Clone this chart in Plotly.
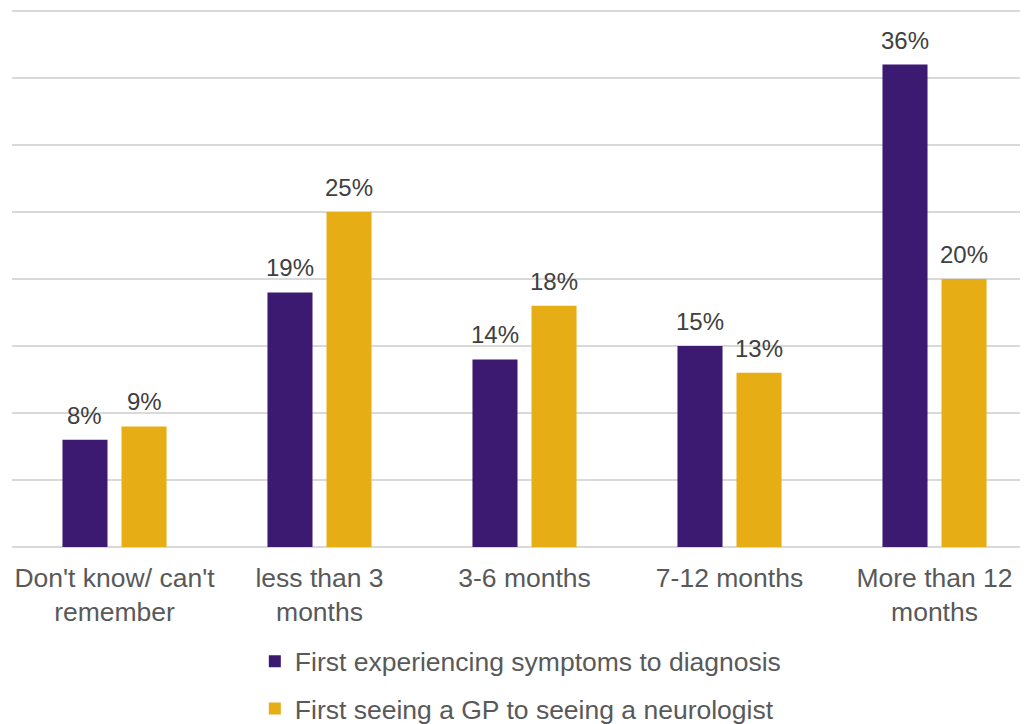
import plotly.graph_objects as go

categories = ["Don't know/ can't<br>remember", "less than 3<br>months", "3-6 months", "7-12 months", "More than 12<br>months"]
series_names = ["First experiencing symptoms to diagnosis", "First seeing a GP to seeing a neurologist"]
symptoms_to_diagnosis = [8, 19, 14, 15, 36]
gp_to_neurologist = [9, 25, 18, 13, 20]
colors = ["#3C1A71", "#E6AD14"]

FONT = "Liberation Sans, Arial, sans-serif"
BARGAP = 0.424
series = [symptoms_to_diagnosis, gp_to_neurologist]
slot = (1 - BARGAP) / len(series)

fig = go.Figure()
annotations = []
xs = list(range(len(categories)))
for i, (name, vals) in enumerate(zip(series_names, series)):
    fig.add_trace(go.Bar(
        x=xs, y=vals, name=name,
        marker=dict(color=colors[i], line=dict(width=0)),
        legendgroup=f"g{i}", hoverinfo="y",
    ))
    off = (i - (len(series) - 1) / 2) * slot
    for x, v in zip(xs, vals):
        annotations.append(dict(
            x=x + off, y=v, xref="x", yref="y", text=f"{v}%", showarrow=False,
            yanchor="bottom", yshift=9,
            font=dict(family=FONT, size=24, color="#404040"),
        ))

fig.update_layout(
    width=1020, height=716,
    margin=dict(l=4, r=0, t=0, b=177, autoexpand=False),
    paper_bgcolor="white", plot_bgcolor="white",
    barmode="group", bargap=BARGAP, bargroupgap=0.237,
    font=dict(family=FONT, size=26.5, color="#595959"),
    annotations=annotations,
    xaxis=dict(
        tickmode="array", tickvals=xs, ticktext=categories,
        range=[-0.5, 4.456], showgrid=False, zeroline=False, showline=False,
        ticks="", tickfont=dict(family=FONT, size=26.5, color="#595959"),
        automargin=False, ticklabelstandoff=12,
    ),
    yaxis=dict(
        range=[0, 40.224], tickmode="array", tickvals=[0, 5, 10, 15, 20, 25, 30, 35, 40],
        showgrid=True, gridcolor="#D9D9D9", gridwidth=1.5,
        showticklabels=False, zeroline=True, zerolinecolor="#D9D9D9", zerolinewidth=1.5,
        showline=False, automargin=False,
    ),
    legend=dict(
        orientation="v", x=0.239, xanchor="left", y=-0.344, yanchor="bottom",
        font=dict(family=FONT, size=26.5, color="#595959"), tracegroupgap=10,
        itemwidth=30, maxheight=300,
    ),
    showlegend=True,
)

fig.write_html("out.html")
